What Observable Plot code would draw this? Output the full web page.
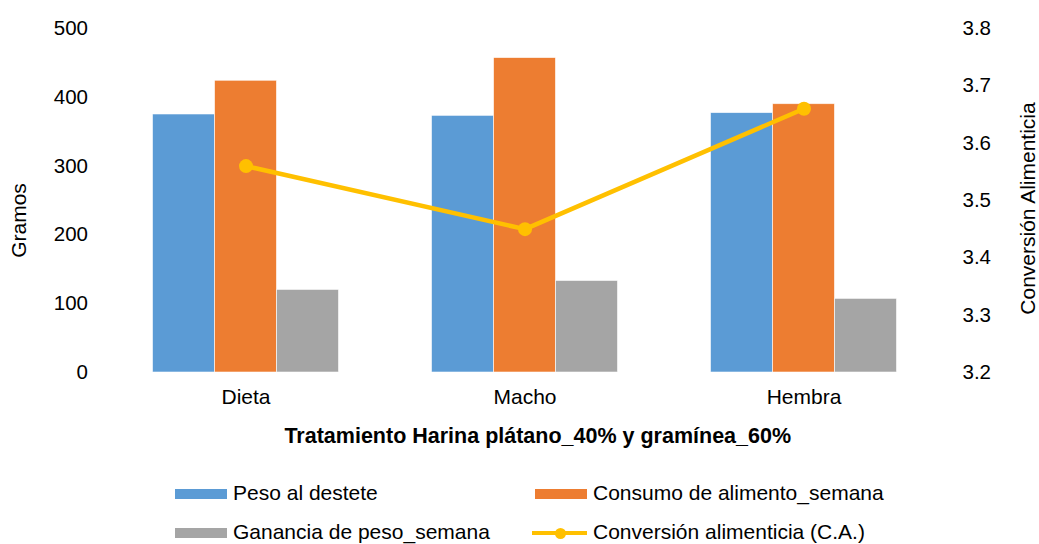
<!DOCTYPE html>
<html>
<head>
<meta charset="utf-8">
<script src="https://cdn.jsdelivr.net/npm/d3@7"></script>
<script src="https://cdn.jsdelivr.net/npm/@observablehq/plot@0.6"></script>
<style>
  html, body { margin: 0; padding: 0; background: #fff; }
  #wrap { position: relative; width: 1039px; height: 544px; font-family: "Liberation Sans", Arial, sans-serif; color: #000; }
  .leg { position: absolute; font-size: 21px; line-height: 22px; white-space: nowrap; }
  .sw { position: absolute; width: 52px; height: 10px; }
</style>
</head>
<body>
<div id="wrap"></div>
<script>
const categories = ["Dieta", "Macho", "Hembra"];
const pesoDestete = [375, 373, 377];
const consumoAlimento = [424, 457, 390];
const gananciaPeso = [120, 133, 107];
const conversion = [3.56, 3.45, 3.66];
const leftTicks = [0, 100, 200, 300, 400, 500];
const rightTicks = [3.2, 3.3, 3.4, 3.5, 3.6, 3.7, 3.8];
const seriesNames = ["Peso al destete", "Consumo de alimento_semana", "Ganancia de peso_semana", "Conversión alimenticia (C.A.)"];
const colors = ["#5B9BD5", "#ED7D31", "#A5A5A5", "#FFC000"];
const xTitle = "Tratamiento Harina plátano_40% y gramínea_60%";
const yTitle = "Gramos";
const y2Title = "Conversión Alimenticia";

const W = 1039, H = 460;
const mL = 105.5, mR = 96, mT = 28, mB = 88;
const step = (W - mL - mR) / categories.length;
const barW = step * 2 / 9;
const groupLeft = (step - 3 * barW) / 2;

// map right axis (3.2..3.8) onto left (0..500)
const r0 = 3.2, r1 = 3.8, l1 = 500;
const toLeft = v => (v - r0) / (r1 - r0) * l1;

const rows = categories.map((c, i) => ({
  cat: c, peso: pesoDestete[i], consumo: consumoAlimento[i], ganancia: gananciaPeso[i], ca: toLeft(conversion[i])
}));

function barFor(key, k) {
  return Plot.barY(rows, {
    x: "cat", y: key, fill: colors[k],
    insetLeft: groupLeft + k * barW,
    insetRight: step - groupLeft - (k + 1) * barW,
    stroke: "#ffffff", strokeWidth: 0.8, strokeOpacity: 0.7
  });
}

const chart = Plot.plot({
  width: W, height: H,
  marginLeft: mL, marginRight: mR, marginTop: mT, marginBottom: mB,
  style: { fontFamily: "Liberation Sans, Arial, sans-serif", fontSize: "20.5px", color: "#000", background: "#fff" },
  x: { type: "band", domain: categories, padding: 0 },
  y: { domain: [0, 500] },
  marks: [
    barFor("peso", 0),
    barFor("consumo", 1),
    barFor("ganancia", 2),
    Plot.line(rows, { x: "cat", y: "ca", stroke: colors[3], strokeWidth: 4.5 }),
    Plot.dot(rows, { x: "cat", y: "ca", fill: colors[3], r: 7 }),
    Plot.axisY({ anchor: "left", ticks: leftTicks, tickSize: 0, tickPadding: 18, label: null, fill: "#000" }),
    Plot.axisY({ anchor: "right", ticks: rightTicks.map(toLeft), tickFormat: (d, i) => rightTicks[i].toFixed(1), tickSize: 0, tickPadding: 19, label: null, fill: "#000" }),
    Plot.axisX({ anchor: "bottom", tickSize: 0, tickPadding: 17, label: null, fill: "#000", fontSize: 21 }),
    Plot.text([xTitle], { frameAnchor: "bottom", dx: 13, dy: 70, fontWeight: "bold", fontSize: 21.5, fill: "#000" }),
    Plot.text([yTitle], { frameAnchor: "left", textAnchor: "middle", rotate: -90, dx: -87, dy: 20, fontSize: 21, fill: "#000" }),
    Plot.text([y2Title], { frameAnchor: "right", textAnchor: "middle", rotate: -90, dx: 85, dy: 8, fontSize: 21, fill: "#000" })
  ]
});

const wrap = document.getElementById("wrap");
wrap.appendChild(chart);

// legend
const legendItems = [
  { name: seriesNames[0], color: colors[0], x: 175, y: 494, line: false },
  { name: seriesNames[1], color: colors[1], x: 535, y: 494, line: false },
  { name: seriesNames[2], color: colors[2], x: 175, y: 533, line: false },
  { name: seriesNames[3], color: colors[3], x: 535, y: 533, line: true }
];
for (const it of legendItems) {
  if (it.line) {
    const ln = document.createElement("div");
    ln.style.cssText = `position:absolute;left:${it.x - 3}px;top:${it.y - 2}px;width:55px;height:4px;background:${it.color};`;
    const dt = document.createElement("div");
    dt.style.cssText = `position:absolute;left:${it.x + 20}px;top:${it.y - 5.5}px;width:11px;height:11px;border-radius:50%;background:${it.color};`;
    wrap.appendChild(ln); wrap.appendChild(dt);
  } else {
    const sw = document.createElement("div");
    sw.className = "sw";
    sw.style.left = it.x + "px"; sw.style.top = (it.y - 5) + "px"; sw.style.background = it.color;
    wrap.appendChild(sw);
  }
  const t = document.createElement("div");
  t.className = "leg";
  t.textContent = it.name;
  t.style.left = (it.x + 58) + "px";
  t.style.top = (it.y - 12) + "px";
  wrap.appendChild(t);
}
</script>
</body>
</html>
